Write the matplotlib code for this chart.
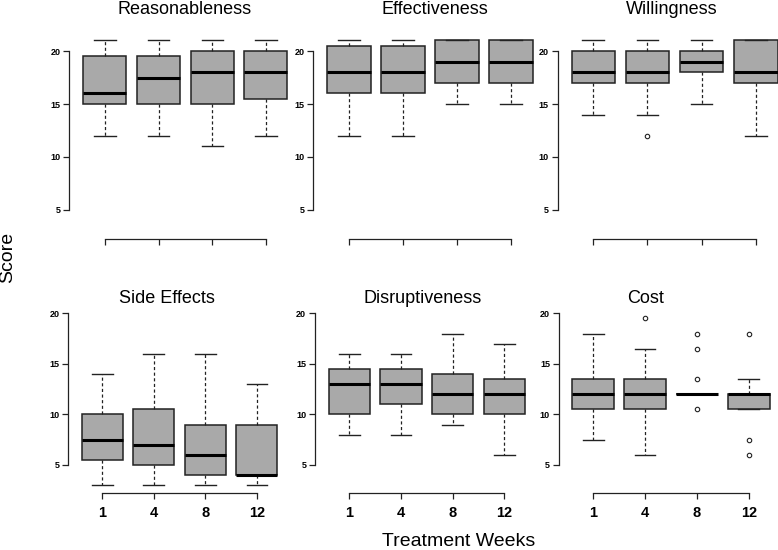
import matplotlib
matplotlib.use("Agg")
import matplotlib.pyplot as plt

plt.rcParams['font.family'] = ['Liberation Sans', 'DejaVu Sans']

weeks = ["1", "4", "8", "12"]
titles = ["Reasonableness", "Effectiveness", "Willingness",
          "Side Effects", "Disruptiveness", "Cost"]

# per panel, per week: (whislo, q1, med, q3, whishi, fliers)
reasonableness = [(12, 15, 16, 19.5, 21, []), (12, 15, 17.5, 19.5, 21, []),
                  (11, 15, 18, 20, 21, []), (12, 15.5, 18, 20, 21, [])]
effectiveness = [(12, 16, 18, 20.5, 21, []), (12, 16, 18, 20.5, 21, []),
                 (15, 17, 19, 21, 21, []), (15, 17, 19, 21, 21, [])]
willingness = [(14, 17, 18, 20, 21, []), (14, 17, 18, 20, 21, [12]),
               (15, 18, 19, 20, 21, []), (12, 17, 18, 21, 21, [])]
side_effects = [(3, 5.5, 7.5, 10, 14, []), (3, 5, 7, 10.5, 16, []),
                (3, 4, 6, 9, 16, []), (3, 4, 4, 9, 13, [])]
disruptiveness = [(8, 10, 13, 14.5, 16, []), (8, 11, 13, 14.5, 16, []),
                  (9, 10, 12, 14, 18, []), (6, 10, 12, 13.5, 17, [])]
cost = [(7.5, 10.5, 12, 13.5, 18, []), (6, 10.5, 12, 13.5, 16.5, [19.5]),
        (12, 12, 12, 12, 12, [18, 16.5, 13.5, 10.5]),
        (10.5, 10.5, 12, 12, 13.5, [18, 7.5, 6])]
panels = [reasonableness, effectiveness, willingness, side_effects, disruptiveness, cost]

W, H = 778, 550
fig = plt.figure(figsize=(W / 100, H / 100), dpi=100)

# axes boxes in pixels: (left, right, top, bottom)
boxes = [(69.4, 301.4, 32.8, 238.8), (313.4, 546.7, 32.8, 238.8), (557.5, 791.6, 32.8, 238.8),
         (68.3, 290.8, 295.9, 492.5), (315.2, 538.5, 295.9, 492.5), (559, 783, 295.9, 492.5)]
# title centre x and baseline y, pixels
title_pos = [(185, 13.5), (435, 13.5), (672, 13.5), (167, 303), (423, 303), (646, 303)]

edge = "#222222"
for i, (data, (l, r, t, b)) in enumerate(zip(panels, boxes)):
    ax = fig.add_axes([l / W, 1 - b / H, (r - l) / W, (b - t) / H])
    ax.patch.set_alpha(0)
    stats = []
    for d in data:
        stats.append(dict(whislo=d[0], q1=d[1], med=d[2], q3=d[3], whishi=d[4], fliers=d[5]))
    ax.bxp(stats, positions=[1, 2, 3, 4], widths=0.8, patch_artist=True,
           boxprops=dict(facecolor="#a9a9a9", edgecolor=edge, linewidth=1.1),
           medianprops=dict(color="black", linewidth=2.2, solid_capstyle="butt"),
           whiskerprops=dict(color=edge, linewidth=0.9, linestyle=(0, (2.5, 2))),
           capprops=dict(color=edge, linewidth=1.0),
           capwidths=0.4,
           flierprops=dict(marker="o", markersize=3.2, markerfacecolor="none",
                           markeredgecolor=edge, markeredgewidth=0.8))
    ax.set_xlim(0.34, 4.66)
    ax.set_ylim(2.28, 21.72)
    for s in ["top", "right"]:
        ax.spines[s].set_visible(False)
    ax.spines["left"].set_bounds(5, 20)
    ax.spines["bottom"].set_bounds(1, 4)
    for s in ["left", "bottom"]:
        ax.spines[s].set_color(edge)
        ax.spines[s].set_linewidth(0.9)
    ax.set_yticks([5, 10, 15, 20])
    ax.set_yticklabels(["5", "10", "15", "20"], fontsize=6.5, fontweight="bold")
    ax.set_xticks([1, 2, 3, 4])
    if i < 3:
        ax.set_xticklabels([])
    else:
        ax.set_xticklabels(weeks, fontsize=10.5, fontweight="bold")
    ax.tick_params(axis="both", length=4.5, width=0.9, color=edge, pad=2)
    ax.tick_params(axis="x", pad=5)
    tx, ty = title_pos[i]
    fig.text(tx / W, 1 - ty / H, titles[i], ha="center", va="baseline", fontsize=13)

fig.text(8 / W, 1 - 257 / H, "Score", rotation=90, ha="center", va="center", fontsize=14)
fig.text(459 / W, 1 - 541 / H, "Treatment Weeks", ha="center", va="center", fontsize=14)

fig.savefig("out.png", dpi=100)
